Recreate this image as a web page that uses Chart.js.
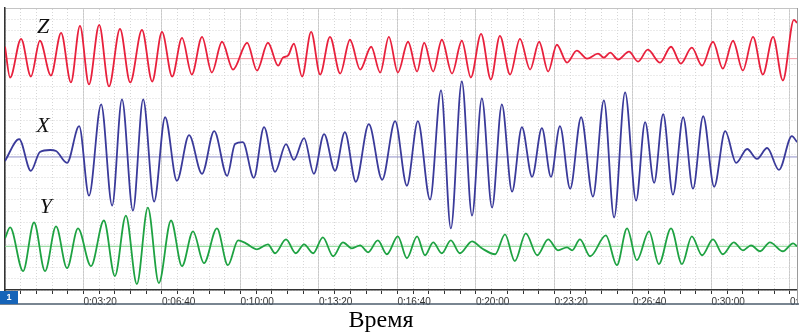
<!DOCTYPE html>
<html>
<head>
<meta charset="utf-8">
<script src="https://cdn.jsdelivr.net/npm/chart.js@4.4.0/dist/chart.umd.min.js"></script>
<style>
  body { margin: 0; background: #fff; }
  #wrap { width: 799px; height: 333px; position: relative; }
</style>
</head>
<body>
<div id="wrap"><canvas id="seismo"></canvas></div>
<script>
// time in seconds, amplitude relative to each trace's own zero line
const zTime = [0,13,41,66,89,117,143,168,191,214,240,265,293,319,349,375,400,426,451,476,502,527,553,581,617,642,670,696,708,721,736,757,780,803,828,854,879,905,933,956,978,1001,1027,1050,1068,1091,1113,1139,1164,1187,1213,1238,1261,1287,1312,1338,1361,1384,1406,1432,1457,1483,1511,1526,1542,1562,1590,1613,1638,1669,1697,1722,1750,1776,1804,1829,1855,1880,1906,1931,1957,1982,2010,2018];
const zAmp = [12,-19,20,-18,18,-17,26,-24,33,-26,34,-28,30,-24,29,-23,27,-18,21,-16,22,-14,17,-11,16,-12,16,-7,1,3,15,-18,27,-16,22,-15,19,-11,12,-14,22,-14,17,-13,16,-13,19,-15,18,-19,25,-21,23,-16,20,-11,17,-13,14,-4,8,0,5,1,6,-1,7,-3,9,-4,12,-5,11,-7,17,-10,18,-12,22,-16,22,-22,39,36];

const xTime = [0,36,66,89,115,130,158,189,214,245,273,298,326,352,380,408,438,469,502,533,566,586,606,634,660,688,716,736,762,787,813,841,866,894,927,961,994,1024,1052,1083,1111,1136,1164,1190,1215,1241,1266,1292,1317,1343,1368,1391,1414,1440,1468,1498,1526,1552,1580,1608,1631,1654,1677,1702,1728,1753,1779,1807,1835,1863,1891,1916,1942,1972,2005,2018];
const xAmp = [-4,18,-14,5,7,6,-6,31,-39,53,-49,58,-54,58,-45,40,-24,22,-17,26,-19,13,15,-21,30,-15,13,-3,19,-17,23,-14,25,-25,33,-23,36,-29,36,-43,67,-72,76,-59,59,-51,53,-35,30,-20,29,-20,31,-32,40,-40,57,-61,65,-44,35,-26,43,-38,40,-32,41,-30,26,-6,8,-2,9,-13,21,15];

const yTime = [0,13,46,74,102,130,158,186,219,252,280,308,336,364,392,423,451,479,507,540,568,594,614,642,670,688,716,741,762,785,810,836,861,884,905,925,950,973,1001,1024,1050,1070,1091,1113,1136,1159,1190,1215,1249,1274,1299,1327,1356,1384,1409,1432,1445,1465,1491,1531,1559,1585,1610,1641,1666,1697,1725,1750,1776,1804,1829,1857,1880,1901,1924,1949,1982,2008,2018];
const yAmp = [8,19,-25,24,-25,20,-22,18,-20,26,-30,31,-38,39,-37,26,-20,15,-17,18,-19,6,3,-3,2,-7,7,-7,2,-7,9,-10,4,-2,1,-6,6,-8,10,-12,10,-9,4,-7,6,-7,5,-2,-8,12,-15,13,-9,7,-4,-1,-4,7,-10,11,-19,18,-14,15,-18,18,-18,10,-9,7,-8,4,-4,1,-5,4,-5,3,0];

const majorTicks = [200,400,600,800,1000,1200,1400,1600,1800,2000];
const traceNames = ['Z', 'X', 'Y'];
const axisCaption = 'Время';

const T_MAX = 2018;
// vertical placement of the three traces on one shared scale
const offsets = { Z: 233, X: 134, Y: 44 };

const fmt = s => Math.floor(s / 3600) + ':' +
  String(Math.floor(s % 3600 / 60)).padStart(2, '0') + ':' +
  String(s % 60).padStart(2, '0');

const toPoints = (times, amps, off) => times.map((t, i) => ({ x: t, y: off + amps[i] }));
const zeroLine = off => [{ x: 0, y: off }, { x: T_MAX, y: off }];

function trace(pts, color) {
  return { data: pts, borderColor: color, borderWidth: 1.8, pointRadius: 0,
           cubicInterpolationMode: 'monotone', order: 0 };
}
function baseline(off, color) {
  return { data: zeroLine(off), borderColor: color, borderWidth: 1, pointRadius: 0, order: 1 };
}

const decor = {
  id: 'decor',
  afterDraw(chart) {
    const { ctx, chartArea, scales: { x, y } } = chart;
    ctx.save();
    ctx.font = 'italic 22px "Liberation Serif", serif';
    ctx.fillStyle = '#111';
    ctx.textAlign = 'center';
    ctx.textBaseline = 'middle';
    const namePos = [[97, 265], [97, 165], [104, 83]];
    traceNames.forEach((n, i) => ctx.fillText(n, x.getPixelForValue(namePos[i][0]), y.getPixelForValue(namePos[i][1])));

    const b = chartArea.bottom;
    // cut the last time label at the frame edge
    ctx.fillStyle = '#fff';
    ctx.fillRect(chartArea.right + 1, b + 1, 10, 13);
    ctx.strokeStyle = '#9a9a9a';
    ctx.lineWidth = 1;
    ctx.beginPath(); ctx.moveTo(chartArea.right + 0.5, b); ctx.lineTo(chartArea.right + 0.5, b + 14); ctx.stroke();
    ctx.strokeStyle = '#4d5d6d';
    ctx.lineWidth = 1.5;
    ctx.beginPath(); ctx.moveTo(0, b + 14); ctx.lineTo(799, b + 14); ctx.stroke();
    ctx.fillStyle = '#1664b8';
    ctx.fillRect(0, b + 1, 18, 13);
    ctx.fillStyle = '#fff';
    ctx.font = 'bold 9px "Liberation Sans", sans-serif';
    ctx.fillText('1', 9, b + 8);

    ctx.fillStyle = '#000';
    ctx.font = '24px "Liberation Serif", serif';
    ctx.fillText(axisCaption, 381, 321);
    ctx.restore();
  }
};

new Chart(document.getElementById('seismo'), {
  type: 'line',
  data: {
    datasets: [
      trace(toPoints(zTime, zAmp, offsets.Z), '#e8203c'),
      trace(toPoints(xTime, xAmp, offsets.X), '#3a3a9a'),
      trace(toPoints(yTime, yAmp, offsets.Y), '#1ea242'),
      baseline(offsets.Z, '#f3949f'),
      baseline(offsets.X, '#9090c8'),
      baseline(offsets.Y, '#84d48e'),
    ],
  },
  plugins: [decor],
  options: {
    responsive: true,
    maintainAspectRatio: false,
    animation: false,
    layout: { autoPadding: false, padding: { left: 5, right: 2, top: 8, bottom: 23 } },
    plugins: { legend: { display: false }, tooltip: { enabled: false } },
    scales: {
      x: {
        type: 'linear', min: 0, max: T_MAX,
        afterFit: s => { s.paddingLeft = 0; s.paddingRight = 0; },
        ticks: {
          stepSize: 40, autoSkip: false, maxRotation: 0, includeBounds: false,
          align: 'start', padding: 2, color: '#333',
          font: { family: 'Liberation Sans', size: 10 },
          callback: v => majorTicks.includes(v) ? fmt(v) : '',
        },
        grid: {
          color: c => c.tick && c.tick.value % 200 === 0 ? '#c9c9c9' : 'rgba(0,0,0,0)',
          tickColor: '#333',
          tickLength: 4,
        },
        border: { color: '#333', width: 1.5 },
      },
      xMinor: {
        type: 'linear', position: 'top', min: 0, max: T_MAX,
        ticks: { display: false, stepSize: 40, includeBounds: false },
        grid: { color: '#d6d6d6', drawTicks: false },
        border: { color: '#c4c4c4', dash: [1, 2] },
      },
      y: {
        min: 0, max: 284,
        ticks: { display: false, stepSize: 284 / 25, includeBounds: false },
        grid: { color: '#d6d6d6', drawTicks: false },
        border: { color: '#333', width: 1.5, dash: [1, 2] },
      },
      yRight: {
        position: 'right',
        ticks: { display: false },
        grid: { display: false, drawTicks: false },
        border: { color: '#9a9a9a' },
      },
    },
  },
});
</script>
</body>
</html>
